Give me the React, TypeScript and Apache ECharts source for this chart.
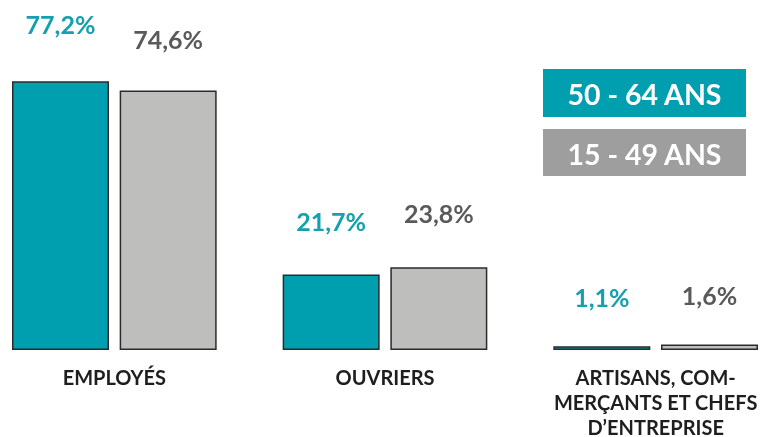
import React, { useEffect, useRef } from "react";
import * as echarts from "echarts";

const categories = ["EMPLOYÉS", "OUVRIERS", "ARTISANS, COM-\nMERÇANTS ET CHEFS\nD’ENTREPRISE"];
const series5064 = [77.2, 21.7, 1.1];
const series1549 = [74.6, 23.8, 1.6];
const legendNames = ["50 - 64 ANS", "15 - 49 ANS"];

const TEAL = "#009fb0";
const GRAY_BAR = "#bebfbd";
const GRAY_LEGEND = "#9e9e9e";
const TEAL_LABEL = "#14a0ae";
const GRAY_LABEL = "#5a5a5a";
const FONT = "Lato, 'Open Sans', sans-serif";

// label placement tweaks (px above bar top) to mirror the reference's hand-placed labels
const DIST_TEAL = [45, 41, 37];
const DIST_GRAY = [39, 42, 37];

const fmt = (v: number) => v.toFixed(1).replace(".", ",") + "%";

export default function App() {
  const ref = useRef<HTMLDivElement>(null);
  useEffect(() => {
    document.body.style.margin = "0";
    const chart = echarts.init(ref.current!, undefined, { renderer: "svg" });
    const mkSeries = (name: string, data: number[], dists: number[], color: string, labelColor: string) => ({
      name,
      type: "bar",
      data: data.map((v, i) => ({ value: v, label: { distance: dists[i] } })),
      barWidth: 97,
      barGap: "11%",
      itemStyle: { color, borderColor: "#2b2b2b", borderWidth: 1.5 },
      label: {
        show: true,
        position: "top",
        formatter: (p: any) => fmt(p.value),
        color: labelColor,
        fontFamily: FONT,
        fontWeight: "bold",
        fontSize: 25,
      },
    });
    chart.setOption({
      animation: false,
      grid: { left: 0, right: 0, top: 2, bottom: 87, outerBoundsMode: "none", containLabel: false },
      xAxis: {
        type: "category",
        data: categories,
        axisLine: { show: false },
        axisTick: { show: false },
        axisLabel: {
          margin: 14,
          color: "#1e1e1e",
          fontFamily: FONT,
          fontWeight: "bold",
          fontSize: 20,
          lineHeight: 25,
          verticalAlign: "top",
          interval: 0,
        },
      },
      yAxis: { type: "value", min: 0, max: 100, show: false, splitLine: { show: false } },
      series: [
        mkSeries(legendNames[0], series5064, DIST_TEAL, TEAL, TEAL_LABEL),
        mkSeries(legendNames[1], series1549, DIST_GRAY, GRAY_BAR, GRAY_LABEL),
      ],
      graphic: [
        {
          type: "group",
          left: 543 + 21,
          top: 69,
          children: [
            { type: "rect", shape: { x: 0, y: 0, width: 203, height: 48 }, style: { fill: TEAL } },
            {
              type: "text",
              x: 101.5,
              y: 25,
              style: {
                text: legendNames[0],
                fill: "#ffffff",
                font: `bold 28.5px ${FONT}`,
                textAlign: "center",
                textVerticalAlign: "middle",
              },
            },
            { type: "rect", shape: { x: 0, y: 60, width: 203, height: 47 }, style: { fill: GRAY_LEGEND } },
            {
              type: "text",
              x: 101.5,
              y: 85,
              style: {
                text: legendNames[1],
                fill: "#ffffff",
                font: `bold 28.5px ${FONT}`,
                textAlign: "center",
                textVerticalAlign: "middle",
              },
            },
          ],
        },
      ],
    });
    return () => chart.dispose();
  }, []);
  return (
    <div style={{ width: 769, height: 437, overflow: "hidden", position: "fixed", left: 0, top: 0 }}>
      <div ref={ref} style={{ width: 812, height: 437, position: "absolute", left: -21, top: 0 }} />
    </div>
  );
}
